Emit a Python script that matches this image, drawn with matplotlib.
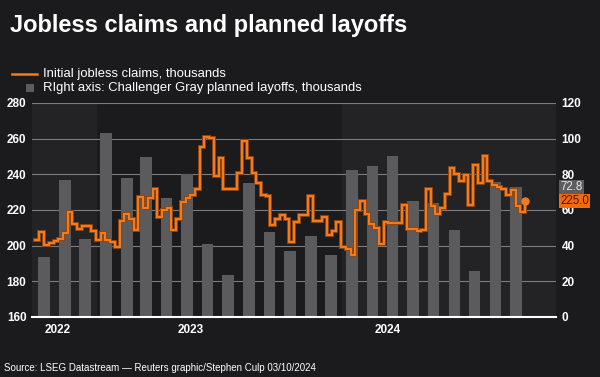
import numpy as np
import pandas as pd
import matplotlib
matplotlib.use("Agg")
import matplotlib.pyplot as plt
import matplotlib.patheffects as pe
from matplotlib.lines import Line2D
from matplotlib.patches import Rectangle

# Weekly initial jobless claims (thousands), weeks ending 2022-10-01 .. 2024-09-28
claims = [
    203, 207.5, 200.5, 201.5, 202.5, 204, 207, 219, 212, 209.5,
    211, 211, 208, 203, 207, 203, 202, 199.5, 214, 218,
    215, 209, 227.5, 221, 227, 232, 216, 220, 221, 209,
    215, 224.5, 227, 228.5, 231.5, 255.5, 261, 260.5, 239, 249,
    232, 232, 232, 240.5, 258.5, 249, 241, 235, 228.5, 228,
    211.5, 215, 217, 215, 202, 213, 217, 217, 228, 214,
    214, 216, 206, 208, 213.5, 199, 198, 195, 220, 225,
    218, 212, 210, 201, 213, 212.5, 212.5, 212.5, 223, 209.5,
    209.5, 208, 209, 232, 222, 218, 221, 229, 243.5, 240,
    236, 239.5, 223, 245.5, 235, 250, 236, 234, 233, 232,
    228.5, 231, 222, 219, 225,
]
claim_weeks = pd.date_range("2022-10-01", periods=len(claims), freq="7D")

# Challenger, Gray & Christmas planned layoffs (thousands), Oct 2022 .. Sep 2024
layoffs = [
    33.8, 76.8, 43.7,
    102.9, 77.8, 89.7, 67.0, 80.1, 40.7, 23.7, 75.2, 47.5, 36.8, 45.5, 34.8,
    82.3, 84.6, 90.3, 64.8, 63.8, 48.8, 25.9, 75.9, 72.8,
]
layoff_months = pd.date_range("2022-10-01", periods=len(layoffs), freq="MS") + pd.Timedelta(days=14)

year_labels = ["2022", "2023", "2024"]
year_label_dates = pd.to_datetime(["2022-11-04", "2023-05-21", "2024-03-08"])

BG = "#1b1b1d"
SHADE = "#232325"
ORANGE = "#f47a1e"
GREY = "#5b5b5d"
GRID = "#7c7c7c"

fig = plt.figure(figsize=(6, 3.77), dpi=100)
fig.patch.set_facecolor(BG)

ax2 = fig.add_axes([0.0533, 0.1592, 0.8733, 0.5676])
ax = ax2.twinx()
ax.set_zorder(ax2.get_zorder() + 1)
ax.patch.set_visible(False)
ax2.patch.set_visible(False)

xmin, xmax = pd.Timestamp("2022-09-27"), pd.Timestamp("2024-11-13")

# alternating year shading
ax2.axvspan(xmin, pd.Timestamp("2023-01-01"), color=SHADE, zorder=0, lw=0)
ax2.axvspan(pd.Timestamp("2024-01-01"), xmax, color=SHADE, zorder=0, lw=0)

ax2.bar(layoff_months, layoffs, width=17, color=GREY, zorder=2)
ax2.set_ylim(0, 120)
ax2.set_yticks(np.arange(0, 121, 20))
ax2.grid(axis="y", color=GRID, lw=0.8, zorder=1)
ax2.set_axisbelow(True)

line, = ax.plot(claim_weeks, claims, drawstyle="steps-post", color=ORANGE, lw=1.5,
                zorder=3, solid_joinstyle="miter")
line.set_path_effects([pe.Stroke(linewidth=2.8, foreground="#8e4510"), pe.Normal()])
ax.plot(claim_weeks[-1], claims[-1], "o", color=ORANGE, ms=5, zorder=4)
ax.set_ylim(160, 280)
ax.set_yticks(np.arange(160, 281, 20))

ax.set_xlim(xmin, xmax)
ax2.set_xlim(xmin, xmax)

# claims scale on the left, layoffs scale on the right
ax.yaxis.tick_left()
ax2.yaxis.tick_right()
for a in (ax, ax2):
    for s in a.spines.values():
        s.set_visible(False)
ax2.spines["bottom"].set_visible(True)
ax2.spines["bottom"].set_color("white")
ax2.spines["bottom"].set_linewidth(1.5)

tick_font = dict(family=["Liberation Sans", "DejaVu Sans"], weight="bold", size=8.5)
ax.tick_params(axis="y", length=0, pad=4, colors="white")
ax2.tick_params(axis="y", length=0, pad=4, colors="white")
for lab in ax.get_yticklabels() + ax2.get_yticklabels():
    lab.set_fontproperties(tick_font)
    lab.set_color("white")

ax2.set_xticks(year_label_dates)
ax2.set_xticklabels(year_labels)
ax2.tick_params(axis="x", length=0, pad=5, colors="white")
for lab in ax2.get_xticklabels():
    lab.set_fontproperties(tick_font)
ax.tick_params(axis="x", bottom=False, labelbottom=False)

# value tags at right edge
ax2.annotate("72.8", xy=(1, layoffs[-1]), xycoords=("axes fraction", "data"),
             xytext=(4, 0), textcoords="offset pixels", va="center", ha="left",
             color="#e6e6e6", fontsize=8.3, family=["Liberation Sans", "DejaVu Sans"],
             bbox=dict(boxstyle="square,pad=0.12", fc="#5d5d5f", ec="none"), zorder=6)
ax.annotate(f"{claims[-1]:.1f}", xy=(1, claims[-1]), xycoords=("axes fraction", "data"),
            xytext=(4, 0), textcoords="offset pixels", va="center", ha="left",
            color="#4a1400", fontsize=8.3, family=["Liberation Sans", "DejaVu Sans"],
            bbox=dict(boxstyle="square,pad=0.12", fc="#f06a10", ec="none"), zorder=6,
            annotation_clip=False)

# title, legend, source
fig.text(10 / 600, 1 - 32 / 377, "Jobless claims and planned layoffs", color="white",
         fontsize=17, weight="bold", va="baseline", ha="left",
         family=["Liberation Sans", "DejaVu Sans"])

fig.add_artist(Line2D([12 / 600, 37 / 600], [1 - 74 / 377] * 2, color=ORANGE, lw=1.8))
fig.add_artist(Rectangle((26 / 600, 1 - 92 / 377), 8 / 600, 8 / 377, color=GREY, lw=0))
leg_font = dict(family=["Liberation Sans", "DejaVu Sans"], size=9.4, color="white")
fig.text(43 / 600, 1 - 74 / 377, "Initial jobless claims, thousands", va="center", ha="left", **leg_font)
fig.text(43 / 600, 1 - 88 / 377, "RIght axis: Challenger Gray planned layoffs, thousands",
         va="center", ha="left", **leg_font)

fig.text(4 / 600, 1 - 368 / 377, "Source: LSEG Datastream \u2014 Reuters graphic/Stephen Culp 03/10/2024",
         va="center", ha="left", color="white", fontsize=7.0,
         family=["Liberation Sans", "DejaVu Sans"])

fig.savefig("out.png", dpi=100, facecolor=BG)
